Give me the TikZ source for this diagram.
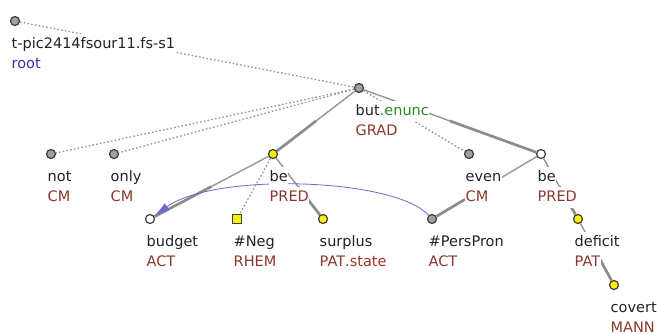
\documentclass[tikz,border=0pt]{standalone}
\usepackage{fontspec}
\setmainfont{DejaVu Sans}
\usetikzlibrary{calc,arrows.meta}
\definecolor{txt}{RGB}{34,34,34}
\definecolor{fun}{RGB}{140,55,45}
\definecolor{funb}{RGB}{165,50,40}
\definecolor{rootc}{RGB}{50,50,170}
\definecolor{enc}{RGB}{40,140,40}
\definecolor{corefc}{RGB}{105,105,210}
\pgfdeclarelayer{bg}
\pgfdeclarelayer{fg}
\pgfsetlayers{bg,main,fg}
\newcommand\splitedge[2]{%
  \draw[thinedge] (#1) -- ($(#1)!.5!(#2)$);
  \draw[thickedge] ($(#1)!.5!(#2)$) -- (#2);}
\newcommand\tlabel[4]{%
  \node[lab] (#1a) at ($(#2)+(-4,27)$) {#3};
  \node[lab] (#1b) at ($(#2)+(-4,47)$) {#4};}
\tikzset{
  tnode/.style={circle, minimum size=9pt, inner sep=0pt, draw={rgb,255:red,60;green,60;blue,60}, line width=1.2pt},
  gnode/.style={tnode, fill={rgb,255:red,160;green,160;blue,160}},
  wnode/.style={tnode, fill=white},
  ynode/.style={tnode, fill=yellow},
  ysq/.style={rectangle, minimum size=8.5pt, inner sep=0pt, draw={rgb,255:red,60;green,60;blue,60}, line width=1.2pt, fill=yellow},
  lab/.style={anchor=base west, fill=white, inner xsep=0.5pt, inner ysep=3pt, text height=11pt, text depth=4pt, text=txt, font=\fontsize{14.5}{17}\selectfont},
  thinedge/.style={draw={rgb,255:red,150;green,150;blue,150}, line width=1.4pt},
  thickedge/.style={draw={rgb,255:red,140;green,140;blue,140}, line width=2.7pt},
  dotedge/.style={draw={rgb,255:red,150;green,150;blue,150}, line width=1.3pt, dash pattern=on 1.6pt off 2.2pt},
  coref/.style={draw=corefc, line width=0.8pt, -{Latex[length=16pt,width=8pt]}}
}
\begin{document}
\begin{tikzpicture}[x=1pt,y=-1pt]
\useasboundingbox (0,0) rectangle (657,333);
\begin{pgfonlayer}{fg}
\node[gnode] (root) at (15,21) {};
\node[gnode] (but) at (359,88) {};
\node[gnode] (not) at (51,154) {};
\node[gnode] (only) at (114,154) {};
\node[ynode] (beA) at (273,154) {};
\node[gnode] (even) at (469,154) {};
\node[wnode] (beB) at (541,154) {};
\node[wnode] (budget) at (150,219) {};
\node[ysq] (neg) at (237,219) {};
\node[ynode] (surplus) at (323,219) {};
\node[gnode] (pers) at (432,219) {};
\node[ynode] (deficit) at (578,219) {};
\node[ynode] (covert) at (614,285) {};
\end{pgfonlayer}
\tlabel{root}{root}{t-pic2414fsour11.fs-s1}{\textcolor{rootc}{root}}
\tlabel{but}{but}{but\textcolor{enc}{.enunc}}{\textcolor{fun}{GRAD}}
\tlabel{not}{not}{not}{\textcolor{fun}{CM}}
\tlabel{only}{only}{only}{\textcolor{fun}{CM}}
\tlabel{beA}{beA}{be}{\textcolor{fun}{PRED}}
\tlabel{even}{even}{even}{\textcolor{fun}{CM}}
\tlabel{beB}{beB}{be}{\textcolor{fun}{PRED}}
\tlabel{budget}{budget}{budget}{\textcolor{fun}{ACT}}
\tlabel{neg}{neg}{\#Neg}{\textcolor{fun}{RHEM}}
\tlabel{surplus}{surplus}{surplus}{\textcolor{fun}{PAT}\textcolor{funb}{.state}}
\tlabel{pers}{pers}{\#PersPron}{\textcolor{fun}{ACT}}
\tlabel{deficit}{deficit}{deficit}{\textcolor{fun}{PAT}}
\tlabel{covert}{covert}{covert}{\textcolor{fun}{MANN}}
\begin{pgfonlayer}{bg}
\draw[dotedge] (root) -- (but);
\draw[dotedge] (but) -- (not);
\draw[dotedge] (but) -- (only);
\draw[dotedge] (but) -- (even);
\draw[dotedge] (beA) -- (neg);
\splitedge{but}{beA}
\splitedge{but}{beB}
\splitedge{beA}{budget}
\splitedge{beA}{surplus}
\splitedge{beB}{pers}
\splitedge{beB}{deficit}
\splitedge{deficit}{covert}
\draw[coref] (pers) .. controls (395,178) and (215,172) .. (budget);
\end{pgfonlayer}
\end{tikzpicture}
\end{document}
